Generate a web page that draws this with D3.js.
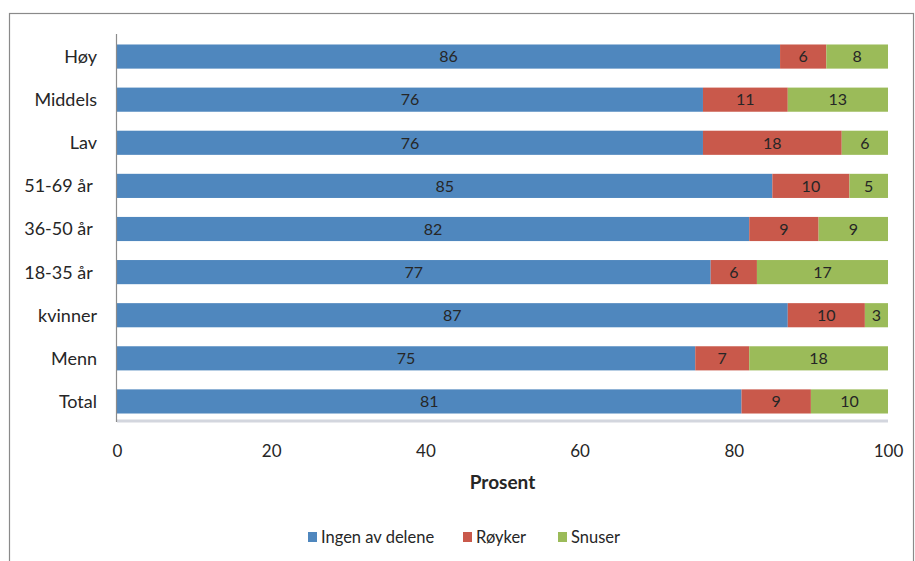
<!DOCTYPE html>
<html>
<head>
<meta charset="utf-8">
<script src="https://cdn.jsdelivr.net/npm/d3@7"></script>
<style>
  html, body { margin: 0; padding: 0; background: #fff; }
  svg { display: block; font-family: Lato, "Open Sans", sans-serif; }
  text { white-space: pre; }
</style>
</head>
<body>
<svg id="chart" width="915" height="561"></svg>
<script>
const categories = ["Høy", "Middels", "Lav", "51-69 år ", "36-50 år ", "18-35 år ", "kvinner", "Menn", "Total"];
const seriesNames = ["Ingen av delene", "Røyker", "Snuser"];
const ingen  = [86, 76, 76, 85, 82, 77, 87, 75, 81];
const royker = [6, 11, 18, 10, 9, 6, 10, 7, 9];
const snuser = [8, 13, 6, 5, 9, 17, 3, 18, 10];
const xTicks = [0, 20, 40, 60, 80, 100];
const colors = ["#4f87be", "#c9594b", "#9bbb59"];

const svg = d3.select("#chart");

// outer border
svg.append("rect").attr("x", 9.5).attr("y", 13.5).attr("width", 904).attr("height", 560)
  .attr("fill", "none").attr("stroke", "#8a8a8a").attr("stroke-width", 1.2);

const pLeft = 117, pRight = 888, pTop = 34, pBottom = 422;
const x = d3.scaleLinear().domain([0, 100]).range([pLeft, pRight]);
const y = d3.scaleBand().domain(categories).range([pTop, pBottom]).paddingInner(0.44).paddingOuter(0.22);

const rows = categories.map((c, i) => ({cat: c, Ingen: ingen[i], Royker: royker[i], Snuser: snuser[i]}));
const keys = ["Ingen", "Royker", "Snuser"];
const stack = d3.stack().keys(keys)(rows);

// floor line
svg.append("line").attr("x1", pLeft).attr("x2", pRight).attr("y1", pBottom - 1).attr("y2", pBottom - 1)
  .attr("stroke", "#d3d6de").attr("stroke-width", 3);

stack.forEach((layer, li) => {
  const g = svg.append("g");
  g.selectAll("rect").data(layer).enter().append("rect")
    .attr("x", d => x(d[0]))
    .attr("y", d => y(d.data.cat) + 1)
    .attr("width", d => x(d[1]) - x(d[0]))
    .attr("height", y.bandwidth())
    .attr("fill", colors[li]);
  g.selectAll("text").data(layer).enter().append("text")
    .attr("x", d => (x(d[0]) + x(d[1])) / 2)
    .attr("y", d => y(d.data.cat) + 1 + y.bandwidth() / 2)
    .attr("dy", "0.36em")
    .attr("text-anchor", "middle")
    .attr("font-size", 16)
    .attr("fill", "#262626")
    .text(d => d[1] - d[0]);
});

// y axis line
svg.append("line").attr("x1", pLeft - 0.5).attr("x2", pLeft - 0.5).attr("y1", pTop).attr("y2", pBottom)
  .attr("stroke", "#8c8c8c").attr("stroke-width", 1.2);

// category labels
svg.append("g").selectAll("text").data(categories).enter().append("text")
  .attr("x", 97)
  .attr("y", d => y(d) + 1 + y.bandwidth() / 2)
  .attr("dy", "0.36em")
  .attr("text-anchor", "end")
  .attr("font-size", 18)
  .attr("fill", "#262626")
  .text(d => d);

// x axis ticks
const xAxis = d3.axisBottom(x).tickValues(xTicks).tickSize(0).tickPadding(0);
const ax = svg.append("g").attr("transform", `translate(0, 445)`).call(xAxis);
ax.select(".domain").remove();
ax.selectAll("text").attr("font-size", 17).attr("fill", "#262626")
  .attr("font-family", "Lato, 'Open Sans', sans-serif");

svg.append("text").attr("x", (pLeft + pRight) / 2).attr("y", 482).attr("dy", "0.36em")
  .attr("text-anchor", "middle").attr("font-size", 19).attr("font-weight", "bold")
  .attr("fill", "#262626").text("Prosent");

// legend
const legendX = [308, 463, 558];
const lg = svg.append("g");
seriesNames.forEach((n, i) => {
  lg.append("rect").attr("x", legendX[i]).attr("y", 532).attr("width", 9).attr("height", 10).attr("fill", colors[i]);
  lg.append("text").attr("x", legendX[i] + 13).attr("y", 537).attr("dy", "0.36em")
    .attr("font-size", 16.5).attr("fill", "#262626").text(n);
});
</script>
</body>
</html>
